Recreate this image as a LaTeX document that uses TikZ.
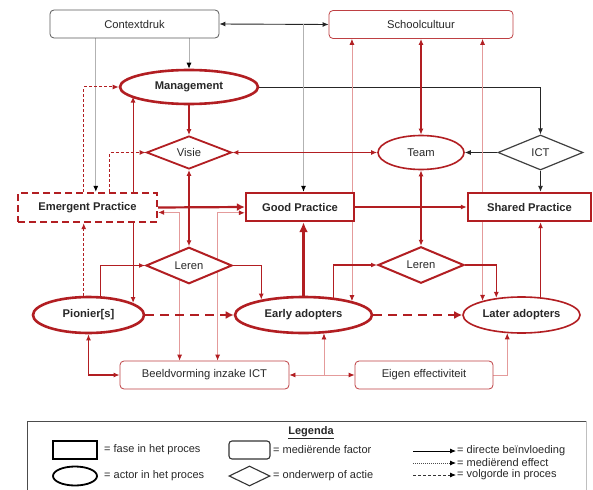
\documentclass[tikz,border=0pt]{standalone}
\usepackage{fontspec}
\setmainfont{Liberation Sans}
\usetikzlibrary{shapes.geometric,arrows.meta,calc,backgrounds}
\definecolor{dred}{RGB}{178,30,34}
\definecolor{pinkl}{RGB}{228,155,155}
\definecolor{greyl}{RGB}{178,178,178}
\definecolor{txtc}{RGB}{40,40,40}
\tikzset{
  nodebase/.style={inner sep=0pt, text=txtc, font=\fontsize{11.2}{13}\selectfont},
  legfont/.style={nodebase, font=\fontsize{11}{12}\selectfont, anchor=west},
  phasebox/.style={nodebase, rectangle, draw=dred, line width=2.4pt, fill=white, font=\fontsize{11.2}{13}\selectfont\bfseries},
  factorbox/.style={nodebase, rectangle, rounded corners=4pt, draw=dred!85, line width=0.8pt, fill=white},
  actor/.style={nodebase, ellipse, draw=dred, line width=2.6pt, fill=white, font=\fontsize{11.2}{13}\selectfont\bfseries},
  topic/.style={nodebase, diamond, draw=dred, line width=2pt, fill=white},
  tipone/.style={-{Latex[length=6pt,width=5pt]}},
  tipboth/.style={{Latex[length=6pt,width=5pt]}-{Latex[length=6pt,width=5pt]}},
  redtipone/.style={-{Latex[length=6pt,width=5pt,color=dred]}},
  redtipboth/.style={{Latex[length=6pt,width=5pt,color=dred]}-{Latex[length=6pt,width=5pt,color=dred]}},
  blacktipone/.style={-{Latex[length=6pt,width=5pt,color=black]}},
  redline/.style={draw=dred, line width=1.2pt},
  pinkline/.style={draw=pinkl, line width=0.8pt},
  greyline/.style={draw=greyl, line width=0.8pt},
  blackline/.style={draw=black!85, line width=0.9pt},
  seqthick/.style={draw=dred, line width=2.6pt, dash pattern=on 9pt off 6pt},
  seqthin/.style={draw=dred, line width=1pt, dash pattern=on 3pt off 2pt},
}
\begin{document}
\begin{tikzpicture}[x=1pt,y=-1pt]
\useasboundingbox (0,0) rectangle (593,489);
% nodes
\node[factorbox, draw=black!65, minimum width=169pt, minimum height=28pt] (ctx) at (134.5,24) {Contextdruk};
\node[factorbox, minimum width=184pt, minimum height=28pt] (school) at (421,24.5) {Schoolcultuur};
\node[actor, minimum width=138pt, minimum height=34pt] (mgmt) at (189,87) {Management};
\node[topic, line width=1.8pt, minimum width=85pt, minimum height=33pt] (visie) at (189,152.5) {Visie};
\node[nodebase, ellipse, draw=dred, line width=1.6pt, fill=white, minimum width=86pt, minimum height=34pt] (team) at (421,152.5) {Team};
\node[topic, draw=black!75, line width=1.2pt, minimum width=85pt, minimum height=35pt] (ict) at (540.5,152.5) {ICT};
\node[phasebox, dash pattern=on 7pt off 4pt, minimum width=139pt, minimum height=29pt] (emerg) at (87.5,207.5) {Emergent Practice};
\node[phasebox, minimum width=108pt, minimum height=28pt] (good) at (300,207) {Good Practice};
\node[phasebox, minimum width=123pt, minimum height=28pt] (shared) at (529.5,207) {Shared Practice};
\node[topic, minimum width=86pt, minimum height=35pt] (leren1) at (189,265.5) {Leren};
\node[topic, minimum width=86pt, minimum height=35pt] (leren2) at (421,265) {Leren};
\node[actor, minimum width=111pt, minimum height=36pt] (pion) at (88.5,315) {Pionier[s]};
\node[actor, minimum width=137pt, minimum height=36pt] (early) at (303.5,315) {Early adopters};
\node[actor, line width=1.6pt, minimum width=117pt, minimum height=36pt] (later) at (521.5,315) {Later adopters};
\node[factorbox, minimum width=169pt, minimum height=28pt] (beeld) at (204.5,375) {Beeldvorming inzake ICT};
\node[factorbox, minimum width=138pt, minimum height=28pt] (eigen) at (424,375) {Eigen effectiviteit};
% helper coordinates
\coordinate (e84) at ($(emerg.north west)+(67,0)$);
\coordinate (e96) at ($(emerg.north west)+(79,0)$);
\coordinate (e110) at ($(emerg.north west)+(93,0)$);
\coordinate (b180) at ($(beeld.north west)+(60,0)$);
\coordinate (b218) at ($(beeld.north west)+(98,0)$);
\begin{scope}[on background layer]
\fill[white] (-5,-5) rectangle (600,500);
% black
\draw[blackline, tipboth] (ctx.east) -- (school.west);
\draw[blackline, tipone] (mgmt.east) -| (ict.north);
\draw[blackline, tipone] (ict.west) -- (team.east);
\draw[blackline, tipone] (ict.south) -- (ict.south |- shared.north);
% grey
\draw[greyline, blacktipone] (ctx.south -| mgmt.north) -- (mgmt.north);
\draw[greyline, blacktipone] (ctx.south -| e96) -- (e96);
\draw[greyline, blacktipone] (ctx.east -| early.north) -- (early.north |- good.north);
% pink
\draw[pinkline, redtipboth] (school.south -| early.16) -- (early.16);
\draw[pinkline, redtipboth] (school.south -| later.160) -- (later.160);
\draw[pinkline, redtipboth] (emerg.-4) -| (b180);
\draw[pinkline, redtipboth] (good.186) -| (b218);
\draw[pinkline, redtipboth] (beeld.east) -- (eigen.west);
\draw[pinkline, redtipone] (beeld.east -| early.-42) -- (early.-42);
\draw[pinkline, redtipone] (eigen.east) -| (later.-128);
% red
\draw[redline, tipone] (mgmt.south) -- (visie.north);
\draw[redline, tipboth] (team.west) -- (visie.east);
\draw[redline, tipboth] (school.south -| team.north) -- (team.north);
\draw[redline, tipboth] (team.south) -- (leren2.north);
\draw[redline, tipboth] (visie.south) -- (leren1.north);
\draw[redline, tipboth] (pion.15) -- (pion.15 |- mgmt.189);
\draw[redline, tipone] (pion.57) |- (leren1.west);
\draw[redline, tipone] (leren1.east) -| (early.160);
\draw[redline, tipone] (early.30) |- (leren2.west);
\draw[redline, tipone] (leren2.east) -| (later.146);
\draw[redline, tipone] (good.east) -- (shared.west);
\draw[redline, line width=1.8pt, tipone] (later.43) -- (later.43 |- shared.south);
\draw[redline, tipboth] (pion.south) |- (beeld.west);
% thick
\draw[draw=dred, line width=2.2pt, -{Latex[length=8pt,width=8pt]}] (emerg.east) -- (good.west);
\draw[draw=dred, line width=3pt, -{Latex[length=10pt,width=9pt]}] (early.north) -- (early.north |- good.south);
\draw[seqthick, -{Latex[length=8pt,width=8pt]}] (pion.east) -- (early.west);
\draw[seqthick, -{Latex[length=8pt,width=8pt]}] (early.east) -- (later.west);
% thin dashed
\draw[seqthin, tipone] (pion.104) -- (pion.104 |- emerg.south);
\draw[seqthin, tipone] (e84) |- (mgmt.west);
\draw[seqthin, tipone] (e110) |- (visie.west);
\end{scope}
% legend
\draw[draw=black!70, line width=1pt] (27,495) |- (586,421);
\draw[draw=black!25, line width=0.6pt] (586,421) -- (586,495);
\node[nodebase, font=\fontsize{11}{12}\selectfont\bfseries] (legt) at (311,432.5) {\underline{Legenda}};
\node[nodebase, draw=black, line width=1.8pt, minimum width=44pt, minimum height=18pt] (lrect) at (75,450) {};
\node[legfont] (lt1) at (104,450) {= fase in het proces};
\node[nodebase, ellipse, draw=black, line width=1.8pt, minimum width=44pt, minimum height=19pt] (lell) at (75,476) {};
\node[legfont] (lt2) at (104,476) {= actor in het proces};
\node[nodebase, rounded corners=3pt, draw=black!80, line width=1.1pt, minimum width=41pt, minimum height=18pt] (lrr) at (249.5,450) {};
\node[legfont] (lt3) at (273,450) {= mediërende factor};
\node[nodebase, diamond, draw=black!80, line width=1.1pt, minimum width=41pt, minimum height=20pt] (ldia) at (249.5,476) {};
\node[legfont] (lt4) at (273,476) {= onderwerp of actie};
\node[legfont] (lt5) at (457,451) {= directe beïnvloeding};
\node[legfont] (lt6) at (457,463) {= mediërend effect};
\node[legfont] (lt7) at (457,475) {= volgorde in proces};
\coordinate (la1) at (413,451);
\coordinate (la2) at (413,463);
\coordinate (la3) at (413,475);
\draw[black, line width=0.8pt, tipone, shorten >=1pt] (la1) -- (lt5.west);
\draw[black!70, line width=0.8pt, dash pattern=on 1pt off 1pt, blacktipone, shorten >=1pt] (la2) -- (lt6.west);
\draw[black!80, line width=0.8pt, dash pattern=on 3pt off 2pt, blacktipone, shorten >=1pt] (la3) -- (lt7.west);
\end{tikzpicture}
\end{document}
